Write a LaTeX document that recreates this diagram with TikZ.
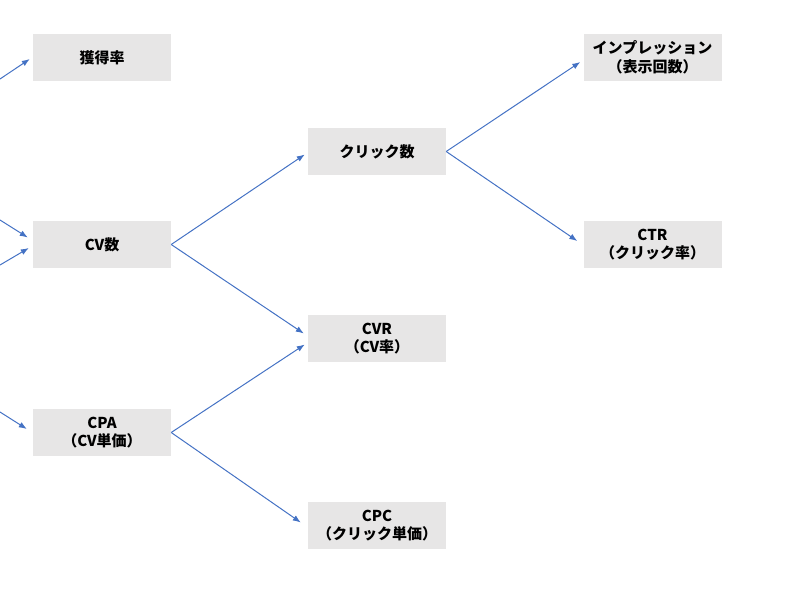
\documentclass[tikz,border=0pt]{standalone}
\usepackage{fontspec}
\setmainfont{Noto Sans CJK JP}
\usepackage{tikz}
\usetikzlibrary{arrows.meta, positioning, calc}
\definecolor{boxgray}{RGB}{231, 230, 230}
\definecolor{arrowblue}{RGB}{68, 114, 196}

\tikzset{
  kpibox/.style={fill=boxgray, minimum width=138pt, minimum height=47pt,
                 inner sep=0pt, font=\fontsize{15}{18.5}\selectfont\bfseries, align=center},
  tree/.style={arrowblue, line width=1pt, -{Latex[length=8pt, width=6pt]}}
}

\begin{document}
\begin{tikzpicture}[x=1pt, y=-1pt]
\useasboundingbox (0,0) rectangle (800,608);

% Boxes
\node[kpibox] (kakutoku) at (102,57.5) {獲得率};
\node[kpibox] (cvnum) at (102,244.5) {CV数};
\node[kpibox] (cpa) at (102,432.5) {CPA\\（CV単価）};
\node[kpibox] (click) at (377,151.5) {クリック数};
\node[kpibox] (cvr) at (377,338.5) {CVR\\（CV率）};
\node[kpibox] (cpc) at (377,525.5) {CPC\\（クリック単価）};
\node[kpibox] (imp) at (652.5,57.5) {インプレッション\\（表示回数）};
\node[kpibox] (ctr) at (652.5,244.5) {CTR\\（クリック率）};

% Free ends at the left edge
\coordinate (in1) at (0,79);
\coordinate (in2) at (0,220);
\coordinate (in3) at (0,265);
\coordinate (in4) at (0,412);

% Incoming arrows
\draw[tree] (in1) -- ($(kakutoku.west)+(-3,1.5)$);
\draw[tree] (in2) -- ($(cvnum.west)+(-5,-7)$);
\draw[tree] (in3) -- ($(cvnum.west)+(-4,3.5)$);
\draw[tree] (in4) -- ($(cpa.west)+(-6,-3.5)$);

% Tree arrows
\draw[tree] (cvnum.east) -- ($(click.west)+(-3,3)$);
\draw[tree] (cvnum.east) -- ($(cvr.west)+(-4,-5)$);
\draw[tree] (cpa.east) -- ($(cvr.west)+(-3,6)$);
\draw[tree] (cpa.east) -- ($(cpc.west)+(-7,-3)$);
\draw[tree] (click.east) -- ($(imp.west)+(-3,4.5)$);
\draw[tree] (click.east) -- ($(ctr.west)+(-6,-3.5)$);

\end{tikzpicture}
\end{document}
